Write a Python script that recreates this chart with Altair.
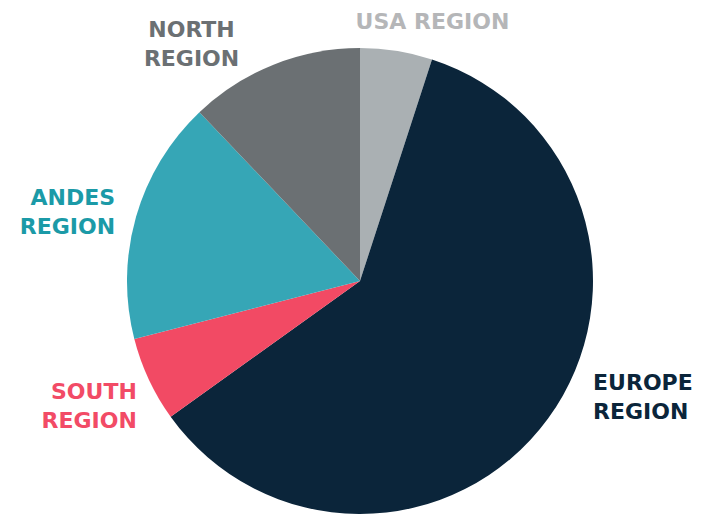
import altair as alt
import pandas as pd

regions = ["USA", "Europe", "South", "Andes", "North"]
labels = ["USA REGION", "EUROPE\nREGION", "SOUTH\nREGION", "ANDES\nREGION", "NORTH\nREGION"]
shares = [5.0, 60.1, 5.9, 16.9, 12.1]
slice_colors = ["#aab0b3", "#0b253a", "#f24a64", "#36a6b6", "#6b7073"]
text_colors = ["#b5b6b8", "#0b253a", "#f24b66", "#1b9aa7", "#6b7073"]

# label placement relative to the slice mid-angle on the rim: (dx, dy, align)
label_pos = {
    "USA": (36, -29, "center"),
    "Europe": (45, -36, "left"),
    "South": (-12, 12, "right"),
    "Andes": (-21, -19, "right"),
    "North": (-82, -35, "center"),
}

R = 233

df = pd.DataFrame({"region": regions, "label": labels, "share": shares,
                   "idx": list(range(len(regions)))})

base = alt.Chart(df).encode(
    theta=alt.Theta("share:Q", stack=True),
    order=alt.Order("idx:Q"),
)

pie = base.mark_arc(outerRadius=R).encode(
    color=alt.Color("region:N", scale=alt.Scale(domain=regions, range=slice_colors), legend=None)
)

layers = [pie]
for reg, col in zip(regions, text_colors):
    dx, dy, align = label_pos[reg]
    t = base.transform_calculate(
        lbl=f"datum.region == '{reg}' ? datum.label : ''"
    ).mark_text(
        radius=R, dx=dx, dy=dy, align=align, baseline="middle",
        font="DejaVu Sans", fontWeight="bold", fontSize=22, lineHeight=29,
        lineBreak="\n", color=col,
    ).encode(text="lbl:N")
    layers.append(t)

chart = alt.layer(*layers).properties(
    width=674, height=466,
    padding={"left": 15, "right": 0, "top": 40, "bottom": 2},
    autosize=alt.AutoSizeParams(type="none"),
).configure_view(stroke=None)

chart.save("out.html", embed_options={"renderer": "svg", "actions": False})
